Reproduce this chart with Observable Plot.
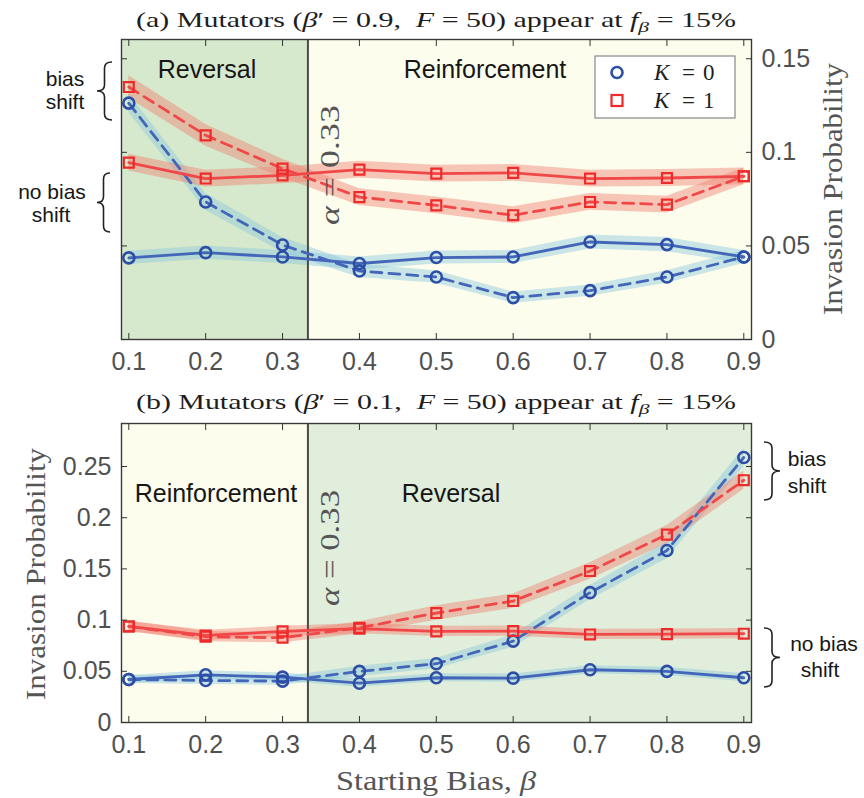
<!DOCTYPE html>
<html>
<head>
<meta charset="utf-8">
<script src="https://cdn.jsdelivr.net/npm/d3@7"></script>
<script src="https://cdn.jsdelivr.net/npm/@observablehq/plot@0.6"></script>
<style>
html,body{margin:0;padding:0;background:#fff;}
#chart{position:relative;width:864px;height:798px;overflow:hidden;background:#fff;}
#chart svg{position:absolute;left:0;overflow:visible;}
</style>
</head>
<body>
<div id="chart"></div>
<script>
// ---------------- data ----------------
const beta = [0.1, 0.2, 0.3, 0.4, 0.5, 0.6, 0.7, 0.8, 0.9];
const betaLabels = ["0.1", "0.2", "0.3", "0.4", "0.5", "0.6", "0.7", "0.8", "0.9"];
const alpha = 0.333;
const xDomain = [0.0905, 0.91];

// panel (a): mutators beta' = 0.9
const aYTicks = [0, 0.05, 0.1, 0.15];
const aYLabels = ["0", "0.05", "0.1", "0.15"];
const aYDomain = [0, 0.1603];
const aK0NoShift = [0.0436, 0.0464, 0.0441, 0.0406, 0.0438, 0.0441, 0.0521, 0.0507, 0.0441];
const aK0NoShiftErr = [0.0035, 0.0035, 0.0035, 0.0035, 0.0035, 0.0035, 0.0038, 0.0038, 0.0035];
const aK0Shift = [0.1263, 0.0735, 0.0505, 0.0366, 0.0334, 0.0224, 0.0261, 0.0334, 0.0441];
const aK0ShiftErr = [0.0050, 0.0045, 0.0040, 0.0035, 0.0033, 0.0030, 0.0030, 0.0033, 0.0035];
const aK1NoShift = [0.0945, 0.0860, 0.0877, 0.0908, 0.0886, 0.0890, 0.0860, 0.0863, 0.0872];
const aK1NoShiftErr = [0.0045, 0.0045, 0.0045, 0.0045, 0.0045, 0.0045, 0.0045, 0.0045, 0.0045];
const aK1Shift = [0.1349, 0.1091, 0.0913, 0.0761, 0.0717, 0.0664, 0.0735, 0.0721, 0.0872];
const aK1ShiftErr = [0.0060, 0.0058, 0.0050, 0.0045, 0.0045, 0.0045, 0.0045, 0.0045, 0.0045];

// panel (b): mutators beta' = 0.1
const bYTicks = [0, 0.05, 0.1, 0.15, 0.2, 0.25];
const bYLabels = ["0", "0.05", "0.1", "0.15", "0.2", "0.25"];
const bYDomain = [0, 0.292];
const bK0NoShift = [0.0420, 0.0466, 0.0443, 0.0384, 0.0437, 0.0433, 0.0515, 0.0499, 0.0437];
const bK0NoShiftErr = [0.0040, 0.0040, 0.0040, 0.0040, 0.0040, 0.0040, 0.0040, 0.0040, 0.0040];
const bK0Shift = [0.0420, 0.0410, 0.0404, 0.0499, 0.0574, 0.0795, 0.1268, 0.1680, 0.2588];
const bK0ShiftErr = [0.0040, 0.0040, 0.0040, 0.0050, 0.0050, 0.0060, 0.0070, 0.0080, 0.0090];
const bK1NoShift = [0.0938, 0.0850, 0.0890, 0.0916, 0.0890, 0.0893, 0.0860, 0.0863, 0.0867];
const bK1NoShiftErr = [0.0050, 0.0050, 0.0050, 0.0050, 0.0050, 0.0050, 0.0050, 0.0050, 0.0050];
const bK1Shift = [0.0938, 0.0838, 0.0828, 0.0925, 0.1069, 0.1186, 0.1479, 0.1835, 0.2366];
const bK1ShiftErr = [0.0050, 0.0050, 0.0050, 0.0060, 0.0070, 0.0070, 0.0080, 0.0090, 0.0090];

// ---------------- styles ----------------
const lineColor = {0: "#4466b8", 1: "#f04848"};
const markColor = {0: "#2d4ea6", 1: "#ee2a2a"};
const bandColor = {0: "#8cc8dc", 1: "#f08070"};
const sansFont = "'Liberation Sans', Arial, Helvetica, sans-serif";
const serifFont = "'Liberation Serif', 'Times New Roman', serif";

const seriesA = [
  {K: 0, shift: false, p: aK0NoShift, e: aK0NoShiftErr},
  {K: 0, shift: true,  p: aK0Shift,   e: aK0ShiftErr},
  {K: 1, shift: false, p: aK1NoShift, e: aK1NoShiftErr},
  {K: 1, shift: true,  p: aK1Shift,   e: aK1ShiftErr}
];
const seriesB = [
  {K: 0, shift: false, p: bK0NoShift, e: bK0NoShiftErr},
  {K: 0, shift: true,  p: bK0Shift,   e: bK0ShiftErr},
  {K: 1, shift: false, p: bK1NoShift, e: bK1NoShiftErr},
  {K: 1, shift: true,  p: bK1Shift,   e: bK1ShiftErr}
];

const rowsOf = s => beta.map((b, i) => ({beta: b, p: s.p[i], lo: s.p[i] - s.e[i], hi: s.p[i] + s.e[i]}));

function panel(series, cfg) {
  const marks = [];
  cfg.regions.forEach(r => marks.push(
    Plot.rect([r], {x1: "from", x2: "to", y1: cfg.yDomain[0], y2: cfg.yDomain[1], fill: r.color})
  ));
  series.forEach(s => marks.push(
    Plot.areaY(rowsOf(s), {x: "beta", y1: "lo", y2: "hi", fill: bandColor[s.K], fillOpacity: 0.45})
  ));
  marks.push(Plot.ruleX([alpha], {stroke: "#4a4a4a", strokeWidth: 2}));
  series.forEach(s => marks.push(
    Plot.line(rowsOf(s), {x: "beta", y: "p", stroke: lineColor[s.K], strokeWidth: 2.8,
      strokeDasharray: s.shift ? "11,7" : null})
  ));
  series.forEach(s => marks.push(
    Plot.dot(rowsOf(s), {x: "beta", y: "p", symbol: s.K === 0 ? "circle" : "square",
      r: s.K === 0 ? 5.5 : 5.6, stroke: markColor[s.K], strokeWidth: s.K === 0 ? 2.6 : 2.2, fill: "none"})
  ));
  marks.push(Plot.frame({stroke: "#3a3a3a", strokeWidth: 1.4}));
  // inward tick marks on all four sides
  const blank = () => "";
  marks.push(Plot.axisX(beta, {anchor: "bottom", tickSize: -6, tickFormat: blank, color: "#333", label: null}));
  marks.push(Plot.axisX(beta, {anchor: "top", tickSize: -6, tickFormat: blank, color: "#333", label: null}));
  marks.push(Plot.axisY(cfg.yTicks, {anchor: "left", tickSize: -6, tickFormat: blank, color: "#333", label: null}));
  marks.push(Plot.axisY(cfg.yTicks, {anchor: "right", tickSize: -6, tickFormat: blank, color: "#333", label: null}));
  // tick labels
  marks.push(Plot.axisX(beta, {anchor: "bottom", tickSize: 0, tickPadding: 13,
    tickFormat: d => betaLabels[beta.indexOf(d)], fontSize: 25, fontFamily: sansFont, color: "#505050", label: null}));
  marks.push(Plot.axisY(cfg.yTicks, {anchor: cfg.yAnchor, tickSize: 0, tickPadding: 10,
    tickFormat: d => cfg.yLabels[cfg.yTicks.indexOf(d)], fontSize: 25, fontFamily: sansFont, color: "#505050", label: null}));

  return Plot.plot({
    width: 864, height: cfg.height,
    marginLeft: 121, marginRight: 113, marginTop: cfg.marginTop, marginBottom: cfg.marginBottom,
    x: {domain: xDomain},
    y: {domain: cfg.yDomain},
    style: {background: "transparent", overflow: "visible"},
    marks
  });
}

// ---------------- annotation helpers ----------------
function richText(sel, parts, attrs, styles) {
  const t = sel.append("text");
  Object.entries(attrs).forEach(([k, v]) => t.attr(k, v));
  Object.entries(styles).forEach(([k, v]) => t.style(k, v));
  let shifted = false;
  parts.forEach(([s, st]) => {
    const ts = t.append("tspan").text(s);
    if (st.includes("i")) ts.style("font-style", "italic");
    if (st.includes("sub")) { ts.attr("dy", 5).style("font-size", "0.72em"); shifted = true; }
    else if (shifted) { ts.attr("dy", -5); shifted = false; }
  });
  return t;
}
function brace(sel, xTip, xBack, y1, y2) {
  const xm = (xTip + xBack) / 2, ym = (y1 + y2) / 2, q = 6;
  const d = `M${xBack},${y1} Q${xm},${y1} ${xm},${y1 + q} L${xm},${ym - q} Q${xm},${ym} ${xTip},${ym}` +
            ` Q${xm},${ym} ${xm},${ym + q} L${xm},${y2 - q} Q${xm},${y2} ${xBack},${y2}`;
  sel.append("path").attr("d", d).attr("fill", "none").attr("stroke", "#222").attr("stroke-width", 1.6);
}
function plainText(sel, x, y, txt, font, size, fill, anchor = "middle", italic = false) {
  const t = sel.append("text").attr("x", x).attr("y", y).attr("text-anchor", anchor).text(txt)
    .style("font-family", font).style("font-size", size + "px").style("fill", fill);
  if (italic) t.style("font-style", "italic");
  return t;
}
const sansLabel = (sel, x, y, txt, size) => plainText(sel, x, y, txt, sansFont, size, "#161616");

const root = document.getElementById("chart");

// ---------------- panel (a) ----------------
const svgA = panel(seriesA, {
  height: 380, marginTop: 39, marginBottom: 41,
  yDomain: aYDomain, yTicks: aYTicks, yLabels: aYLabels, yAnchor: "right",
  regions: [
    {from: xDomain[0], to: alpha, color: "#d6e9cd"},
    {from: alpha, to: xDomain[1], color: "#fdfdee"}
  ]
});
svgA.style.top = "0px";
root.appendChild(svgA);
{
  const s = d3.select(svgA).append("g");
  const xs = svgA.scale("x");
  richText(s, [["(a) Mutators (", ""], ["β", "i"], ["′ = 0.9,  ", ""], ["F", "i"], [" = 50) appear at ", ""],
               ["f", "i"], ["β", "isub"], [" = 15%", ""]],
    {x: 436, y: 27, "text-anchor": "middle", textLength: 600, lengthAdjust: "spacingAndGlyphs"},
    {"font-family": serifFont, "font-size": "21px", fill: "#1e1e1e"});
  sansLabel(s, 207, 78, "Reversal", 25);
  sansLabel(s, 485, 78, "Reinforcement", 25);
  const ax = xs.apply(alpha) + 32;
  const ga = s.append("g").attr("transform", `translate(${ax},165) rotate(-90)`);
  richText(ga, [["α", "i"], [" = 0.33", ""]], {x: 0, y: 0, textLength: 120, lengthAdjust: "spacingAndGlyphs"},
    {"font-family": serifFont, "font-size": "28px", fill: "#555"});
  // legend
  s.append("rect").attr("x", 595).attr("y", 56).attr("width", 140).attr("height", 62)
    .attr("fill", "#fff").attr("stroke", "#888").attr("stroke-width", 1.2);
  s.append("circle").attr("cx", 617).attr("cy", 72.5).attr("r", 5.5)
    .attr("fill", "none").attr("stroke", markColor[0]).attr("stroke-width", 2.6);
  s.append("rect").attr("x", 611.5).attr("y", 95).attr("width", 11).attr("height", 11)
    .attr("fill", "none").attr("stroke", markColor[1]).attr("stroke-width", 2.2);
  [["0", 80], ["1", 108]].forEach(([k, y]) => {
    plainText(s, 654, y, "K", serifFont, 23, "#1e1e1e", "start", true);
    plainText(s, 682, y, "=", serifFont, 23, "#1e1e1e", "start");
    plainText(s, 703, y, k, serifFont, 23, "#1e1e1e", "start");
  });
  // braces
  brace(s, 97, 112, 62, 120);
  sansLabel(s, 65, 86, "bias", 21);
  sansLabel(s, 65, 109, "shift", 21);
  brace(s, 97, 110, 173, 232);
  sansLabel(s, 52, 199, "no bias", 21);
  sansLabel(s, 51, 222, "shift", 21);
  // y label (right)
  const gy = s.append("g").attr("transform", "translate(842,189) rotate(-90)");
  gy.append("text").attr("text-anchor", "middle").attr("textLength", 252).attr("lengthAdjust", "spacingAndGlyphs")
    .text("Invasion Probability").style("font-family", serifFont).style("font-size", "27px").style("fill", "#555");
}

// ---------------- panel (b) ----------------
const svgB = panel(seriesB, {
  height: 418, marginTop: 43, marginBottom: 76,
  yDomain: bYDomain, yTicks: bYTicks, yLabels: bYLabels, yAnchor: "left",
  regions: [
    {from: xDomain[0], to: alpha, color: "#fdfdee"},
    {from: alpha, to: xDomain[1], color: "#e0eedb"}
  ]
});
svgB.style.top = "380px";
root.appendChild(svgB);
{
  const s = d3.select(svgB).append("g");
  const xs = svgB.scale("x");
  const o = 380; // offset of this svg on the page
  richText(s, [["(b) Mutators (", ""], ["β", "i"], ["′ = 0.1,  ", ""], ["F", "i"], [" = 50) appear at ", ""],
               ["f", "i"], ["β", "isub"], [" = 15%", ""]],
    {x: 436, y: 409 - o, "text-anchor": "middle", textLength: 600, lengthAdjust: "spacingAndGlyphs"},
    {"font-family": serifFont, "font-size": "21px", fill: "#1e1e1e"});
  sansLabel(s, 216, 502 - o, "Reinforcement", 25);
  sansLabel(s, 451, 502 - o, "Reversal", 25);
  const ax = xs.apply(alpha) + 32;
  const ga = s.append("g").attr("transform", `translate(${ax},${548 - o}) rotate(-90)`);
  richText(ga, [["α", "i"], [" = 0.33", ""]], {x: 0, y: 0, textLength: 116, lengthAdjust: "spacingAndGlyphs"},
    {"font-family": serifFont, "font-size": "28px", fill: "#555"});
  brace(s, 780, 764, 442 - o, 500 - o);
  sansLabel(s, 807, 466 - o, "bias", 21);
  sansLabel(s, 807, 493 - o, "shift", 21);
  brace(s, 780, 764, 628 - o, 687 - o);
  sansLabel(s, 824, 651 - o, "no bias", 21);
  sansLabel(s, 820, 677 - o, "shift", 21);
  // y label (left)
  const gy = s.append("g").attr("transform", `translate(45,${574 - o}) rotate(-90)`);
  gy.append("text").attr("text-anchor", "middle").attr("textLength", 252).attr("lengthAdjust", "spacingAndGlyphs")
    .text("Invasion Probability").style("font-family", serifFont).style("font-size", "27px").style("fill", "#555");
  // x label
  richText(s, [["Starting Bias, ", ""], ["β", "i"]],
    {x: 436, y: 790 - o, "text-anchor": "middle", textLength: 200, lengthAdjust: "spacingAndGlyphs"},
    {"font-family": serifFont, "font-size": "27px", fill: "#555"});
}
</script>
</body>
</html>
